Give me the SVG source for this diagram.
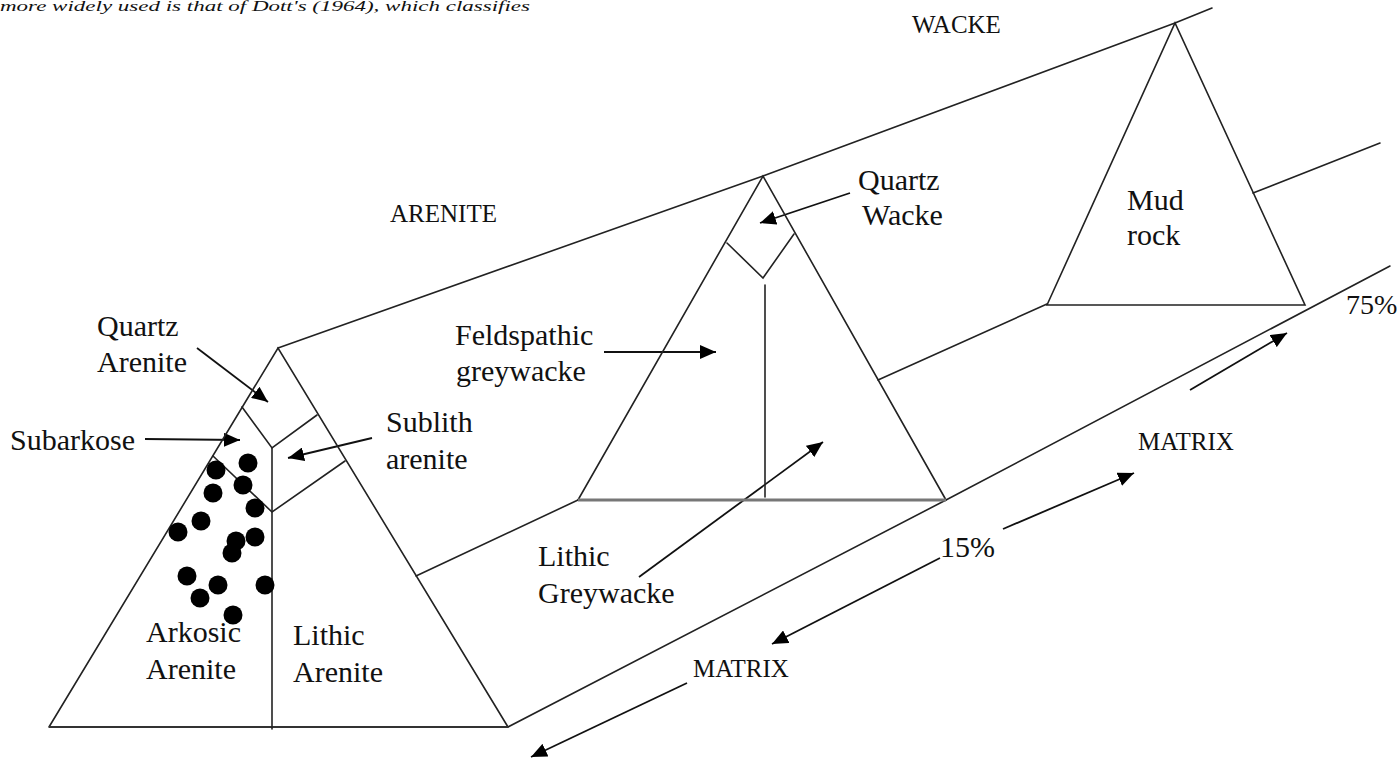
<svg xmlns="http://www.w3.org/2000/svg" width="1400" height="761" viewBox="0 0 1400 761">
<style>
.ln{fill:none;stroke:#222;stroke-width:1.6;stroke-linecap:round;stroke-linejoin:miter}
.base{fill:none;stroke:#333;stroke-width:2.2}
.gbase{fill:none;stroke:#777;stroke-width:3}
.arr{fill:none;stroke:#111;stroke-width:1.8;marker-end:url(#ah)}
.t{font-family:"Liberation Serif","Times New Roman",serif;font-size:30px;fill:#111}
.c{font-family:"Liberation Serif","Times New Roman",serif;font-size:25px;fill:#111}
.top{font-family:"Liberation Serif","Times New Roman",serif;font-size:14px;font-style:italic;fill:#111}
.dot{fill:#000}
</style>
<defs>
<marker id="ah" markerUnits="userSpaceOnUse" markerWidth="18" markerHeight="14" refX="16" refY="7" orient="auto">
<path d="M0,0 L16,7 L0,14 Z" fill="#000"/>
</marker>
</defs>
<rect width="1400" height="761" fill="#fff"/>
<text class="top" x="0" y="11" textLength="530" lengthAdjust="spacingAndGlyphs">more widely used is that of Dott's (1964), which classifies</text>

<g id="connectors">
<path class="ln" d="M278,348 L763,176 L1175,23 L1212,8"/>
<path class="ln" d="M416,576 L578,500"/>
<path class="ln" d="M878,380 L1047,304"/>
<path class="ln" d="M1253,193 L1380,143"/>
<path class="ln" d="M508,727 L946,500 L1390,266"/>
<path class="arr" d="M197,348 L268,402"/>
<path class="arr" d="M145,439 L240,440"/>
<path class="arr" d="M372,438 L288,458"/>
<path class="arr" d="M850,193 L760,223"/>
<path class="arr" d="M604,352 L716,352"/>
<path class="arr" d="M639,577 L823,442"/>
<path class="arr" d="M1190,390 L1287,333"/>
<path class="arr" d="M1003,529 L1134,473"/>
<path class="arr" d="M940,558 L772,644"/>
<path class="arr" d="M687,683 L531,757"/>
</g>

<g id="arenite-triangle">
<path class="ln" d="M49,727 L278,348 L508,727"/>
<path class="base" d="M49,727 L508,727"/>
<path class="ln" d="M272,448 L272,729"/>
<path class="ln" d="M242,407 L272,448 L317,415"/>
<path class="ln" d="M213,456 L272,512 L345,461"/>
<g class="dot">
<circle cx="216" cy="470" r="9.5"/>
<circle cx="248" cy="463" r="9.5"/>
<circle cx="243" cy="485" r="9.5"/>
<circle cx="213" cy="493" r="9.5"/>
<circle cx="255" cy="508" r="9.5"/>
<circle cx="201" cy="521" r="9.5"/>
<circle cx="178" cy="532" r="9.5"/>
<circle cx="236" cy="541" r="9.5"/>
<circle cx="255" cy="537" r="9.5"/>
<circle cx="232" cy="553" r="9.5"/>
<circle cx="187" cy="576" r="9.5"/>
<circle cx="218" cy="585" r="9.5"/>
<circle cx="265" cy="585" r="9.5"/>
<circle cx="200" cy="598" r="9.5"/>
<circle cx="233" cy="615" r="9.5"/>
</g>
<text class="t" x="97" y="336">Quartz</text>
<text class="t" x="97" y="372">Arenite</text>
<text class="t" x="10" y="450">Subarkose</text>
<text class="t" x="386" y="432">Sublith</text>
<text class="t" x="386" y="469">arenite</text>
<text class="t" x="146" y="642">Arkosic</text>
<text class="t" x="146" y="679">Arenite</text>
<text class="t" x="293" y="645">Lithic</text>
<text class="t" x="293" y="682">Arenite</text>
<text class="c" x="390" y="222">ARENITE</text>
</g>

<g id="wacke-triangle">
<path class="ln" d="M578,500 L763,176 L946,500"/>
<path class="gbase" d="M578,500 L946,500"/>
<path class="ln" d="M727,243 L763,278 L794,234"/>
<path class="ln" d="M765,285 L765,497"/>
<text class="t" x="858" y="190">Quartz</text>
<text class="t" x="862" y="225">Wacke</text>
<text class="t" x="455" y="345">Feldspathic</text>
<text class="t" x="456" y="381">greywacke</text>
<text class="t" x="538" y="566">Lithic</text>
<text class="t" x="538" y="603">Greywacke</text>
<text class="c" x="912" y="33">WACKE</text>
</g>

<g id="mudrock-triangle">
<path class="ln" d="M1047,305 L1175,23 L1305,305 Z"/>
<text class="t" x="1127" y="210">Mud</text>
<text class="t" x="1127" y="245">rock</text>
</g>

<g id="matrix-labels">
<text class="t" x="1346" y="314" style="font-size:28px">75%</text>
<text class="c" x="1138" y="450">MATRIX</text>
<text class="t" x="940" y="557">15%</text>
<text class="c" x="693" y="677">MATRIX</text>
</g>
</svg>
